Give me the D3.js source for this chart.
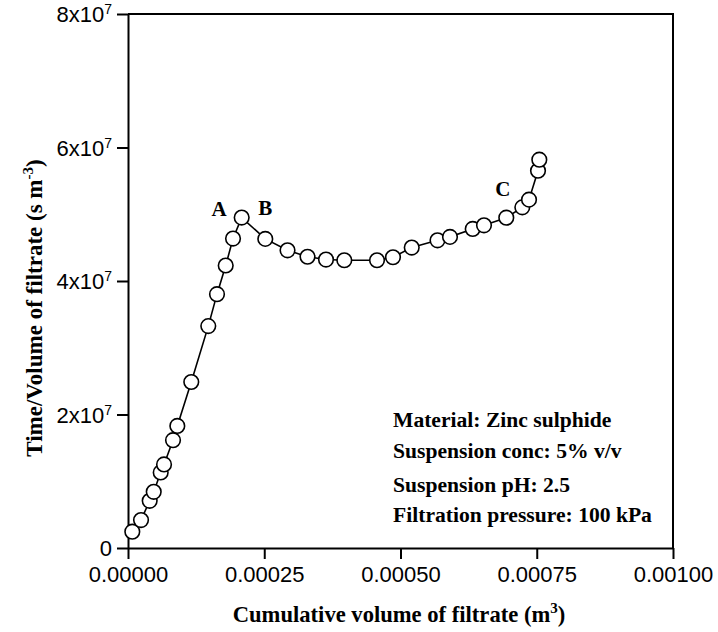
<!DOCTYPE html>
<html>
<head>
<meta charset="utf-8">
<script src="https://cdn.jsdelivr.net/npm/d3@7"></script>
<style>
  html, body { margin: 0; padding: 0; background: #fff; }
  svg { display: block; }
</style>
</head>
<body>
<svg id="chart" width="718" height="632"></svg>
<script>
// ---- data ----
const volume = [0.0000079, 0.0000239, 0.0000398, 0.0000472, 0.0000600, 0.0000661, 0.0000826, 0.0000905,
  0.0001161, 0.0001473, 0.0001633, 0.0001793, 0.0001927, 0.0002086, 0.0002519, 0.0002927, 0.0003294,
  0.0003633, 0.0003969, 0.0004569, 0.0004862, 0.0005206, 0.0005679, 0.0005908, 0.0006325, 0.0006532,
  0.0006941, 0.0007235, 0.0007358, 0.0007523, 0.0007547];
const timePerVolume = [2.44e6, 4.19e6, 7.07e6, 8.42e6, 1.132e7, 1.252e7, 1.615e7, 1.829e7,
  2.487e7, 3.324e7, 3.803e7, 4.232e7, 4.636e7, 4.95e7, 4.631e7, 4.46e7, 4.363e7,
  4.321e7, 4.311e7, 4.311e7, 4.356e7, 4.501e7, 4.61e7, 4.661e7, 4.78e7, 4.834e7,
  4.949e7, 5.103e7, 5.219e7, 5.652e7, 5.817e7];
const xTicks = [0, 0.00025, 0.0005, 0.00075, 0.001];
const xTickLabels = ["0.00000", "0.00025", "0.00050", "0.00075", "0.00100"];
const yTicks = [0, 2e7, 4e7, 6e7, 8e7];
const yTickBase = ["0", "2x10", "4x10", "6x10", "8x10"];
const yTickExp = ["", "7", "7", "7", "7"];
const pointLabels = ["A", "B", "C"];
const pointLabelX = [0.000167, 0.000252, 0.000688];
const pointLabelY = [4.98e7, 4.99e7, 5.28e7];
const infoLines = ["Material: Zinc sulphide", "Suspension conc: 5% v/v", "Suspension pH: 2.5", "Filtration pressure: 100 kPa"];

// ---- layout ----
const svg = d3.select("#chart");
const L = 128, R = 673, T = 14, B = 548;
const x = d3.scaleLinear().domain([0, 0.001]).range([L, R]);
const y = d3.scaleLinear().domain([0, 8e7]).range([B, T]);
const sans = "'Liberation Sans', Arial, sans-serif";
const serif = "'Liberation Serif', 'Times New Roman', serif";

// frame (top and right)
svg.append("path")
  .attr("d", `M${L},${T}H${R}V${B}`)
  .attr("fill", "none").attr("stroke", "#000").attr("stroke-width", 2);

// x axis
const xAxis = svg.append("g").attr("transform", `translate(0,${B})`)
  .call(d3.axisBottom(x).tickValues(xTicks).tickFormat((d, i) => xTickLabels[i]).tickSize(11).tickPadding(7).tickSizeOuter(0));
xAxis.select(".domain").attr("stroke-width", 2);
xAxis.selectAll(".tick line").attr("stroke-width", 2);
xAxis.selectAll(".tick text").attr("font-family", sans).attr("font-size", 22).attr("fill", "#000");

// y axis
const yAxis = svg.append("g").attr("transform", `translate(${L},0)`)
  .call(d3.axisLeft(y).tickValues(yTicks).tickFormat("").tickSize(11).tickPadding(5).tickSizeOuter(0));
yAxis.select(".domain").attr("stroke-width", 2);
yAxis.selectAll(".tick line").attr("stroke-width", 2);
yAxis.selectAll(".tick").each(function(d, i) {
  const t = d3.select(this).append("text")
    .attr("x", -16).attr("dy", "0.36em")
    .attr("text-anchor", "end")
    .attr("font-family", sans).attr("font-size", 22).attr("fill", "#000");
  t.append("tspan").text(yTickBase[i]);
  if (yTickExp[i]) t.append("tspan").attr("dy", -8).attr("font-size", 14).text(yTickExp[i]);
});

// line
const line = d3.line().x((d, i) => x(volume[i])).y((d, i) => y(timePerVolume[i]));
svg.append("path").datum(volume)
  .attr("d", line).attr("fill", "none").attr("stroke", "#000").attr("stroke-width", 1.6);

// points
svg.append("g").selectAll("circle").data(volume).join("circle")
  .attr("cx", (d) => x(d)).attr("cy", (d, i) => y(timePerVolume[i]))
  .attr("r", 7.3).attr("fill", "#fff").attr("stroke", "#000").attr("stroke-width", 1.6);

// point labels
svg.append("g").selectAll("text").data(pointLabels).join("text")
  .attr("x", (d, i) => x(pointLabelX[i])).attr("y", (d, i) => y(pointLabelY[i]))
  .attr("text-anchor", "middle")
  .attr("font-family", serif).attr("font-weight", "bold").attr("font-size", 21)
  .text(d => d);

// info text
const infoY = [427, 458, 492, 522];
svg.append("g").selectAll("text").data(infoLines).join("text")
  .attr("x", 393).attr("y", (d, i) => infoY[i])
  .attr("font-family", serif).attr("font-weight", "bold").attr("font-size", 21.6)
  .text(d => d);

// x title
const xt = svg.append("text")
  .attr("x", 399).attr("y", 622).attr("text-anchor", "middle")
  .attr("font-family", serif).attr("font-weight", "bold").attr("font-size", 22.6);
xt.append("tspan").text("Cumulative volume of filtrate (m");
xt.append("tspan").attr("dy", -9).attr("font-size", 15).text("3");
xt.append("tspan").attr("dy", 9).text(")");

// y title
const yt = svg.append("text")
  .attr("transform", "translate(42,308) rotate(-90)").attr("text-anchor", "middle")
  .attr("font-family", serif).attr("font-weight", "bold").attr("font-size", 23);
yt.append("tspan").text("Time/Volume of filtrate (s m");
yt.append("tspan").attr("dy", -9).attr("font-size", 15).text("-3");
yt.append("tspan").attr("dy", 9).text(")");
</script>
</body>
</html>
